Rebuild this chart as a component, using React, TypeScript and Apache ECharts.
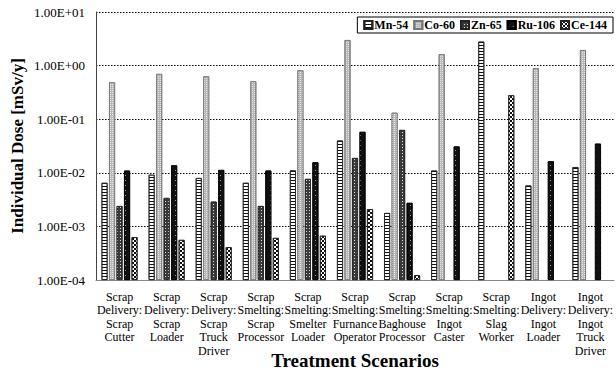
import React, { useEffect, useRef } from "react";
import * as echarts from "echarts";

const categories = [
  "Scrap\nDelivery:\nScrap\nCutter",
  "Scrap\nDelivery:\nScrap\nLoader",
  "Scrap\nDelivery:\nScrap\nTruck\nDriver",
  "Scrap\nSmelting:\nScrap\nProcessor",
  "Scrap\nSmelting:\nSmelter\nLoader",
  "Scrap\nSmelting:\nFurnance\nOperator",
  "Scrap\nSmelting:\nBaghouse\nProcessor",
  "Scrap\nSmelting:\nIngot\nCaster",
  "Scrap\nSmelting:\nSlag\nWorker",
  "Ingot\nDelivery:\nIngot\nLoader",
  "Ingot\nDelivery:\nIngot\nTruck\nDriver",
];

const mn54 = [0.0065, 0.0092, 0.008, 0.0065, 0.0111, 0.04, 0.00178, 0.011, 2.8, 0.0058, 0.0128];
const co60 = [0.49, 0.7, 0.63, 0.51, 0.82, 3.0, 0.132, 1.64, null, 0.89, 1.95];
const zn65 = [0.0024, 0.0034, 0.0029, 0.0024, 0.0077, 0.0189, 0.063, null, null, null, null];
const ru106 = [0.011, 0.0138, 0.0113, 0.011, 0.0157, 0.058, 0.00275, 0.031, null, 0.0164, 0.035];
const ce144 = [0.00063, 0.00056, 0.00041, 0.00061, 0.00067, 0.0021, 0.000123, null, 0.28, null, null];

const seriesNames = ["Mn-54", "Co-60", "Zn-65", "Ru-106", "Ce-144"];
const yTickLabels = ["1.00E-04", "1.00E-03", "1.00E-02", "1.00E-01", "1.00E+00", "1.00E+01"];

// the axis is drawn in decades above the lowest tick (1.00E-04)
const LOG_MIN = -4;

const FONT = "'Liberation Serif', 'Times New Roman', serif";

export default function App() {
  const ref = useRef<HTMLDivElement>(null);
  useEffect(() => {
    if (!ref.current) return;
    const chart = echarts.init(ref.current, undefined, { renderer: "svg" });
    const styles: any[] = [
      {
        color: "#ffffff",
        borderColor: "#222",
        decal: { symbol: "rect", color: "#111", dashArrayX: [1, 0], dashArrayY: [1, 1.2], symbolSize: 1, rotation: 0 },
      },
      {
        color: "#b8b8b8",
        borderColor: "#777",
        decal: { symbol: "rect", color: "#e6e6e6", dashArrayX: [1, 1], dashArrayY: [1, 1], symbolSize: 1, rotation: 0 },
      },
      {
        color: "#3a3a3a",
        borderColor: "#222",
        decal: { symbol: "rect", color: "#dddddd", dashArrayX: [1, 2], dashArrayY: [1, 2], symbolSize: 1, rotation: 0 },
      },
      {
        color: "#111111",
        borderColor: "#000",
        decal: { symbol: "rect", color: "#999999", dashArrayX: [1, 4], dashArrayY: [1, 4], symbolSize: 1, rotation: 0 },
      },
      {
        color: "#ffffff",
        borderColor: "#222",
        decal: { symbol: "rect", color: "#111", dashArrayX: [[2, 2], [0, 2, 2, 0]], dashArrayY: [2, 0], symbolSize: 1, rotation: 0 },
      },
    ];
    const datas = [mn54, co60, zn65, ru106, ce144];
    const toAxis = (v: number | null) => (v == null ? null : Math.log10(v) - LOG_MIN);
    chart.setOption({
      animation: false,
      backgroundColor: "#ffffff",
      textStyle: { fontFamily: FONT },
      grid: { left: 96, right: 2, top: 12, bottom: 90, containLabel: false, outerBoundsMode: "none" },
      legend: {
        top: 17,
        right: 3,
        data: seriesNames,
        icon: "rect",
        itemWidth: 8,
        itemHeight: 8,
        itemGap: 5,
        padding: [2, 6, 2, 6],
        borderColor: "#000",
        borderWidth: 1,
        backgroundColor: "#fff",
        textStyle: { fontFamily: FONT, fontWeight: "bold", fontSize: 12, color: "#000", padding: [0, 0, 0, -3] },
      },
      xAxis: {
        type: "category",
        data: categories,
        name: "Treatment Scenarios",
        nameLocation: "middle",
        nameGap: 71,
        nameMoveOverlap: false,
        nameTextStyle: { fontFamily: FONT, fontWeight: "bold", fontSize: 19, color: "#000", verticalAlign: "top", lineHeight: 19 },
        axisLine: { lineStyle: { color: "#888", width: 1 } },
        axisTick: { show: false },
        axisLabel: {
          interval: 0,
          fontFamily: FONT,
          fontSize: 12,
          lineHeight: 13.5,
          color: "#000",
          margin: 10,
        },
      },
      yAxis: {
        type: "value",
        min: 0,
        max: yTickLabels.length - 1,
        interval: 1,
        name: "Individual Dose [mSv/y]",
        nameLocation: "middle",
        nameGap: 70,
        nameRotate: 90,
        nameMoveOverlap: false,
        nameTextStyle: { fontFamily: FONT, fontWeight: "bold", fontSize: 17, color: "#000" },
        axisLine: { show: true, lineStyle: { color: "#444", width: 1 } },
        axisTick: { show: false },
        axisLabel: {
          fontFamily: FONT,
          fontSize: 13,
          color: "#000",
          margin: 11,
          formatter: (v: number) => yTickLabels[Math.round(v)] ?? "",
        },
        splitLine: { show: true, lineStyle: { color: "#000", type: [1.5, 1.5], width: 1 } },
      },
      series: seriesNames.map((n, i) => ({
        name: n,
        type: "bar",
        data: datas[i].map(toAxis),
        barWidth: 6,
        barGap: "25%",
        itemStyle: { ...styles[i], borderWidth: 0.8 },
      })),
    });
    return () => chart.dispose();
  }, []);
  return <div ref={ref} style={{ position: "fixed", left: 0, top: 0, width: 616, height: 370 }} />;
}
